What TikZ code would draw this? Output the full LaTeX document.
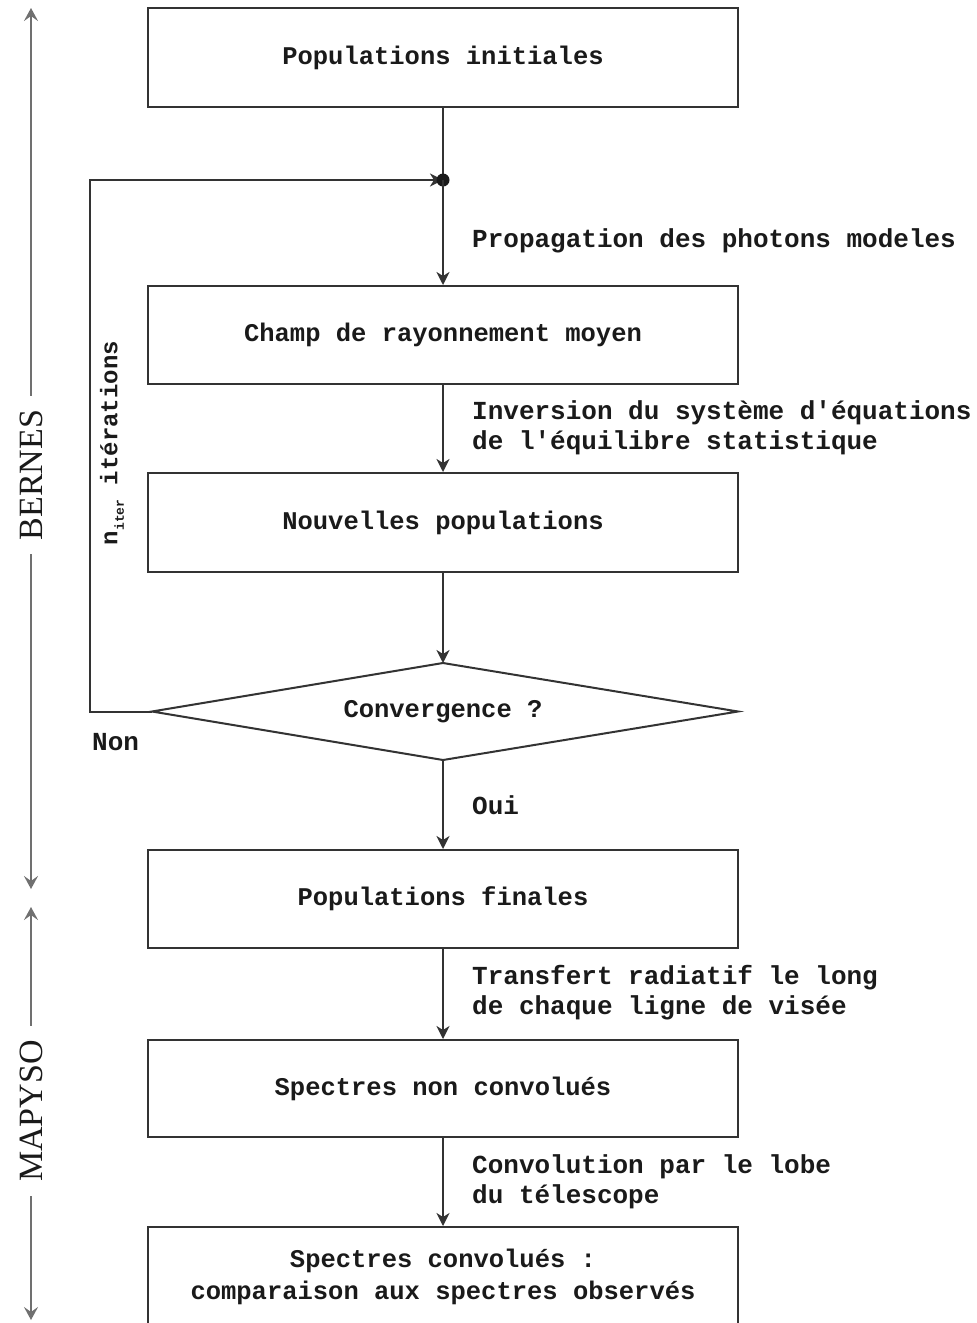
\documentclass[tikz,border=0pt]{standalone}
\usepackage{fontspec}
\setmainfont{Liberation Serif}
\newfontfamily\monof{Liberation Mono}
\usetikzlibrary{arrows.meta}
\definecolor{ink}{HTML}{1A1A1A}
\definecolor{linec}{HTML}{333333}
\definecolor{sidec}{HTML}{707070}
\begin{document}
\begin{tikzpicture}[x=1pt,y=-1pt,
  box/.style={draw=linec,line width=2pt,minimum width=590pt,inner sep=0pt,align=center,
     font=\monof\bfseries\fontsize{25.5}{32}\selectfont,text=ink},
  lab/.style={anchor=west,align=left,inner sep=0pt,font=\monof\bfseries\fontsize{26}{30}\selectfont,text=ink},
  arr/.style={draw=linec,line width=2pt,-{Stealth[length=13pt,width=13pt,inset=4pt]}},
  side/.style={draw=sidec,line width=2.5pt,-{Stealth[length=13pt,width=14pt,inset=5pt]}},
  sidelab/.style={rotate=90,font=\fontsize{34}{34}\selectfont,text=ink,inner sep=14pt}]
\useasboundingbox (0,0) rectangle (977,1323);
% boxes
\node[box,minimum height=99pt] (b1) at (443,57.5) {Populations initiales};
\node[box,minimum height=98pt] (b2) at (443,335) {Champ de rayonnement moyen};
\node[box,minimum height=99pt] (b3) at (443,522.5) {Nouvelles populations};
\node[inner sep=0pt,font=\monof\bfseries\fontsize{25.5}{32}\selectfont,text=ink] (dia) at (443,711.5) {Convergence ?};
\coordinate (dt) at (443,663);
\coordinate (db) at (443,760);
\coordinate (dl) at (152,711.5);
\coordinate (dr) at (738,711.5);
\draw[draw=linec,line width=2pt,line join=miter] (dt) -- (dr) -- (db) -- (dl) -- cycle;
\node[box,minimum height=98pt] (b4) at (443,899) {Populations finales};
\node[box,minimum height=97pt] (b5) at (443,1088.5) {Spectres non convolués};
\node[box,minimum height=100pt] (b6) at (443,1277) {Spectres convolués :\\comparaison aux spectres observés};
% junction
\coordinate (j) at (443,180);
\coordinate (lc) at (90,180);
\draw[draw=linec,line width=2pt] (b1.south) -- (j);
\draw[arr] (dl) -| (lc) -- (j);
\fill[ink] (j) circle (6.5pt);
\draw[arr] (j) -- (b2.north);
\draw[arr] (b2.south) -- (b3.north);
\draw[arr] (b3.south) -- (dt);
\draw[arr] (db) -- (b4.north);
\draw[arr] (b4.south) -- (b5.north);
\draw[arr] (b5.south) -- (b6.north);
% labels
\node[lab] (l1) at (472,241) {Propagation des photons modeles};
\node[lab] (l2) at (472,428) {Inversion du système d'équations\\de l'équilibre statistique};
\node[lab] (l3) at (472,805) {Oui};
\node[lab] (l4) at (472,993) {Transfert radiatif le long\\de chaque ligne de visée};
\node[lab] (l5) at (472,1182) {Convolution par le lobe\\du télescope};
\node[lab] (non) at (92,742) {Non};
\node[rotate=90,inner sep=0pt,font=\monof\bfseries\fontsize{24}{24}\selectfont,text=ink] (iter) at (112,443)
   {n\raisebox{-0.5ex}{\fontsize{13}{13}\selectfont iter} itérations};
% side arrows
\node[sidelab] (bern) at (31,475) {BERNES};
\coordinate (bt) at (31,8);
\coordinate (bb) at (31,889);
\draw[side] (bern) -- (bt);
\draw[side] (bern) -- (bb);
\node[sidelab] (map) at (31,1111) {MAPYSO};
\coordinate (mt) at (31,907);
\coordinate (mb) at (31,1320);
\draw[side] (map) -- (mt);
\draw[side] (map) -- (mb);
\end{tikzpicture}
\end{document}
